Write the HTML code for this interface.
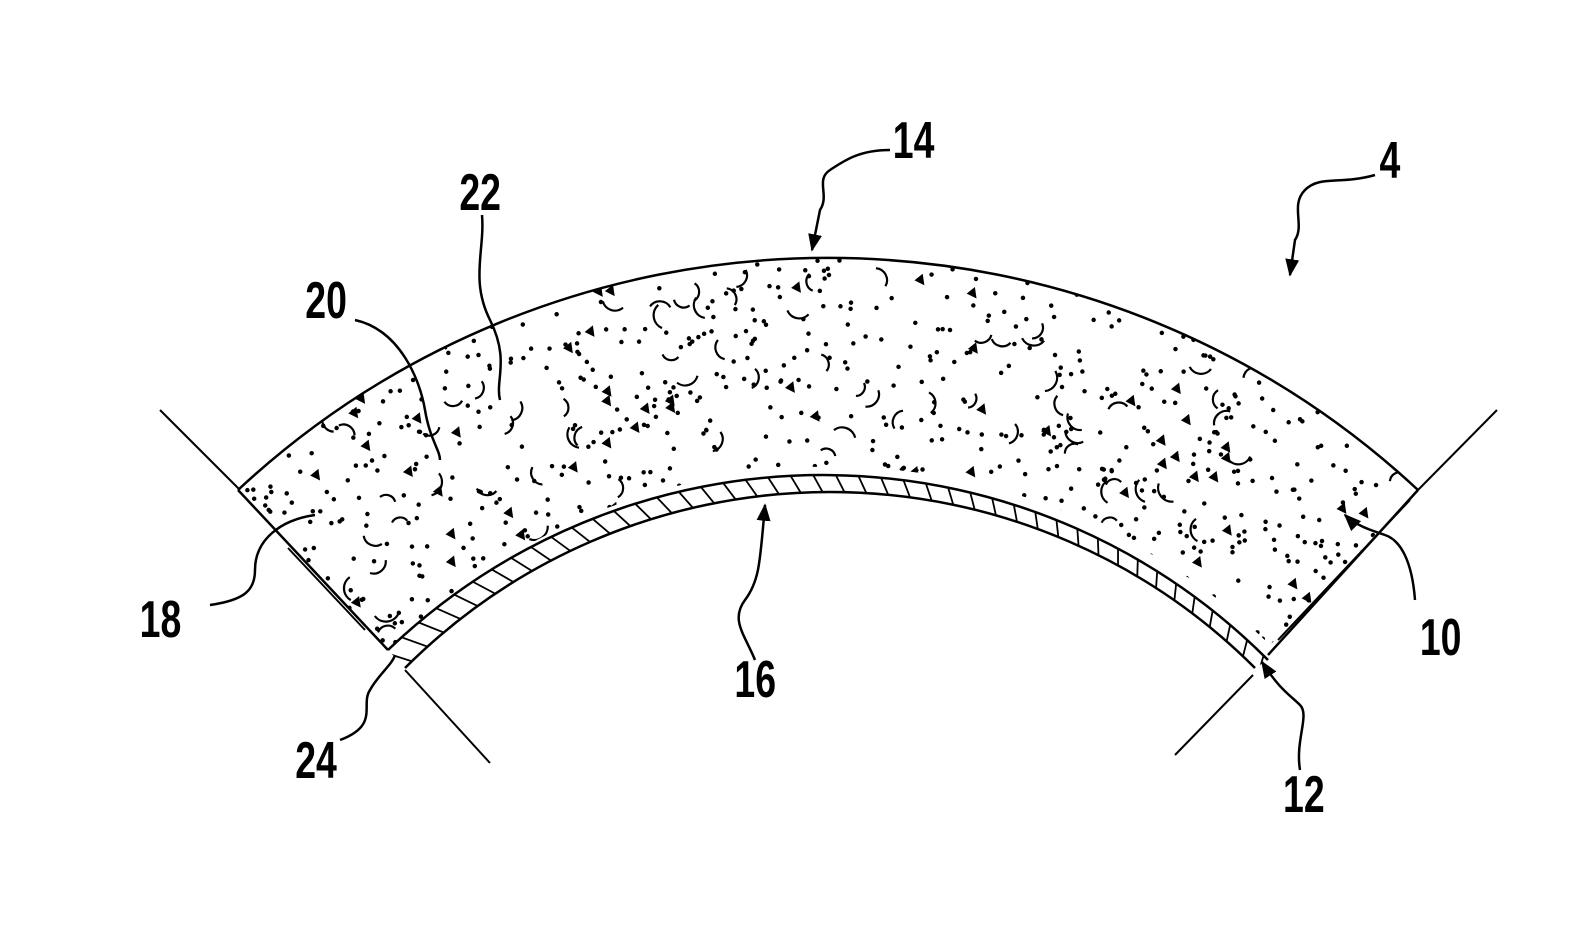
<!DOCTYPE html>
<html><head><meta charset="utf-8"><style>
html,body{margin:0;padding:0;background:#fff;}
svg{display:block}
text{font-family:"Liberation Sans",sans-serif;font-size:52px;font-weight:bold;fill:#000;}
</style></head><body>
<svg id="s" width="1593" height="931" viewBox="0 0 1593 931" xmlns="http://www.w3.org/2000/svg">
<defs>
<clipPath id="foam"><path d="M238,490 A866,866 0 0 1 1418,490 L1270,645 A628,628 0 0 0 388,650 Z"/></clipPath>
<clipPath id="band"><path d="M388,650 A628,628 0 0 1 1268,660 L1255,668 A601,601 0 0 0 405,668 Z"/></clipPath>
<marker id="ar" viewBox="0 0 10 10" refX="9" refY="5" markerWidth="7" markerHeight="7" orient="auto"><path d="M0,1 L10,5 L0,9 Z" fill="#000"/></marker>
</defs>
<g fill="none" stroke="#000" stroke-width="2.5">
<path d="M238,490 A866,866 0 0 1 1418,490"/>
<path d="M388,650 A628,628 0 0 1 1268,660"/>
<path d="M405,668 A601,601 0 0 1 1255,668"/>
<path d="M238,490 L388,650"/>
<path d="M1418,490 L1268,655"/>
<g stroke-width="2">
<path d="M160,410 L240,490"/><path d="M288,548 L365,630"/><path d="M405,670 L490,763"/>
<path d="M1497,410 L1418,490"/><path d="M1410,500 L1278,640"/><path d="M1253,675 L1175,755"/>
</g>
<g id="hatch" clip-path="url(#band)" stroke-width="1.8"></g>
<g id="dots" clip-path="url(#foam)"></g>
<g stroke-width="2.5">
<path d="M890,150 C860,150 845,160 830,170 C815,180 830,195 820,210 L812,250" marker-end="url(#ar)"/>
<path d="M1375,175 C1340,185 1320,175 1305,190 C1290,205 1305,225 1295,240 L1290,275" marker-end="url(#ar)"/>
<path d="M482,215 C485,250 470,280 490,320 C510,360 495,380 500,400"/>
<path d="M355,320 C400,330 420,380 425,410 C430,440 440,450 440,460"/>
<path d="M210,605 C245,600 255,590 255,570 C255,540 280,520 315,515"/>
<path d="M755,660 C745,635 730,620 745,600 C760,580 760,560 765,505" marker-end="url(#ar)"/>
<path d="M340,740 C380,725 360,705 370,690 C378,675 392,665 395,655"/>
<path d="M1415,600 C1412,560 1400,540 1385,535 C1370,530 1355,525 1345,515" marker-end="url(#ar)"/>
<path d="M1300,770 C1295,740 1310,715 1300,705 C1290,695 1280,690 1262,662" marker-end="url(#ar)"/>
</g>
</g>
<g transform="scale(0.72,1)">
<text x="1240" y="158">14</text>
<text x="1916" y="178">4</text>
<text x="638" y="210">22</text>
<text x="424" y="318">20</text>
<text x="194" y="637">18</text>
<text x="1020" y="697">16</text>
<text x="410" y="778">24</text>
<text x="1972" y="655">10</text>
<text x="1782" y="812">12</text>
</g>
</svg>
<script>
(function(){
var NS="http://www.w3.org/2000/svg";
var h=document.getElementById("hatch");
var cx=822,cy=1104;
for(var a=-2.35;a<-0.65;a+=0.036){
 var x1=cx+640*Math.cos(a),y1=cy+640*Math.sin(a);
 var x2=cx+590*Math.cos(a+0.045),y2=cy+590*Math.sin(a+0.045);
 var l=document.createElementNS(NS,"line");
 l.setAttribute("x1",x1);l.setAttribute("y1",y1);l.setAttribute("x2",x2);l.setAttribute("y2",y2);
 h.appendChild(l);
}
var d=document.getElementById("dots");
var seed=7;function r(){seed=(seed*16807)%2147483647;return seed/2147483647;}
function inside(x,y){var o=Math.hypot(x-828,y-1124),i=Math.hypot(x-822,y-1104);return o<866&&i>628;}
for(var k=0;k<4000&&d.childNodes.length<650;k++){
 var x=230+r()*1200,y=255+r()*420;
 if(!inside(x,y))continue;
 var c=document.createElementNS(NS,"circle");
 c.setAttribute("cx",x);c.setAttribute("cy",y);c.setAttribute("r",1.0);c.setAttribute("fill","#000");
 d.appendChild(c);
}
for(var k=0;k<3000&&d.childNodes.length<790;k++){
 var x=250+r()*1160,y=270+r()*380;
 if(!inside(x,y))continue;
 var p=document.createElementNS(NS,"path");
 if(r()<0.55){
  var s=9+r()*5,a0=r()*6.28;
  p.setAttribute("d","M"+(x+s*Math.cos(a0))+","+(y+s*Math.sin(a0))+" A"+s+","+s+" 0 0 1 "+(x+s*Math.cos(a0+2))+","+(y+s*Math.sin(a0+2)));
  p.setAttribute("fill","none");p.setAttribute("stroke","#000");p.setAttribute("stroke-width","2.2");
 }else{
  p.setAttribute("d","M"+x+","+y+" l5,-4 l1,7 z");p.setAttribute("fill","#000");
 }
 d.appendChild(p);
}
})();
</script>
</body></html>
